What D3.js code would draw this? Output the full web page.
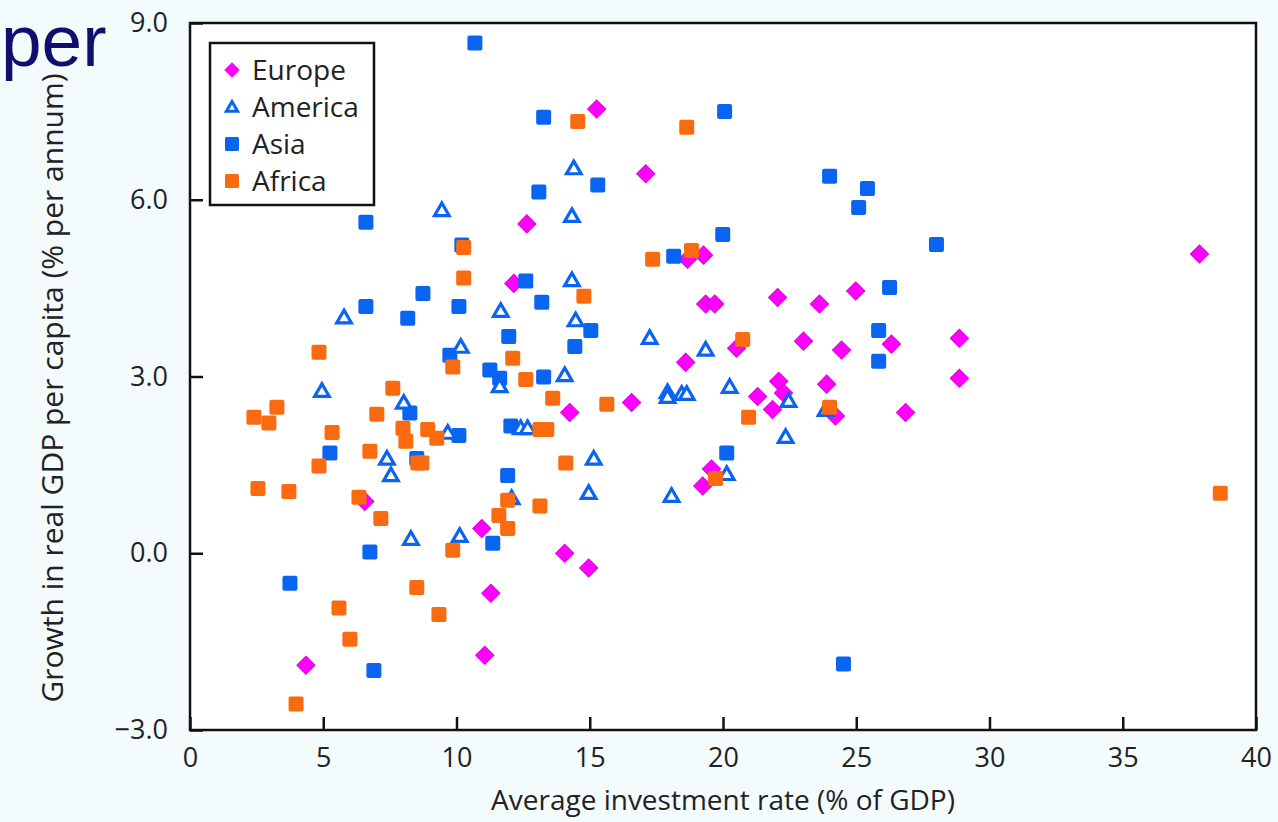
<!DOCTYPE html>
<html>
<head>
<meta charset="utf-8">
<script src="https://cdn.jsdelivr.net/npm/d3@7"></script>
<style>
    html, body { margin: 0; padding: 0; background: #f4fbfd; }
    svg { display: block; font-family: "Open Sans", sans-serif; }
</style>
</head>
<body>
<div id="chart"></div>
<script>
// growth vs investment, [investment %, growth %]
var europe = [
    [15.26, 7.54], [17.10, 6.44], [12.64, 5.59], [18.67, 4.99], [19.27, 5.06], [12.15, 4.58],
    [19.35, 4.23], [19.69, 4.23], [22.05, 4.34], [23.62, 4.23], [24.98, 4.45], [37.88, 5.08],
    [18.60, 3.24], [20.51, 3.48], [23.02, 3.60], [24.45, 3.45], [26.32, 3.55], [28.87, 3.65],
    [28.87, 2.97], [14.25, 2.39], [16.57, 2.56], [21.30, 2.66], [21.86, 2.44], [22.09, 2.92],
    [22.27, 2.72], [23.89, 2.87], [24.22, 2.33], [26.85, 2.39], [19.57, 1.43], [19.24, 1.14],
    [14.06, 0.00], [14.96, -0.25], [10.95, 0.42], [6.56, 0.88], [11.29, -0.68], [4.35, -1.90],
    [11.06, -1.73]
];
var america = [
    [9.45, 5.82], [5.78, 4.00], [4.95, 2.75], [14.40, 6.53], [14.33, 5.72], [14.33, 4.63],
    [14.47, 3.95], [11.66, 4.11], [10.16, 3.50], [17.25, 3.65], [19.35, 3.45], [14.06, 3.02],
    [11.62, 2.83], [8.02, 2.55], [7.39, 1.60], [7.54, 1.32], [9.67, 2.04], [12.41, 2.12],
    [12.67, 2.12], [12.07, 0.93], [8.29, 0.24], [10.12, 0.29], [15.15, 1.60], [14.96, 1.02],
    [18.07, 0.97], [20.14, 1.34], [17.92, 2.73], [17.92, 2.65], [18.45, 2.70], [18.64, 2.70],
    [20.25, 2.82], [22.46, 2.58], [22.35, 1.97], [23.85, 2.43]
];
var asia = [
    [10.69, 8.66], [13.27, 7.40], [20.06, 7.50], [15.30, 6.25], [13.09, 6.13], [24.00, 6.40],
    [25.42, 6.19], [25.09, 5.87], [6.60, 5.62], [10.20, 5.23], [19.99, 5.41], [18.15, 5.04],
    [28.01, 5.24], [12.60, 4.62], [13.20, 4.26], [8.74, 4.41], [6.60, 4.19], [8.17, 3.99],
    [10.09, 4.19], [11.96, 3.68], [15.04, 3.78], [14.44, 3.51], [9.75, 3.36], [11.25, 3.11],
    [11.62, 2.97], [13.27, 2.99], [26.25, 4.51], [25.84, 3.78], [25.84, 3.26], [8.25, 2.38],
    [5.25, 1.70], [8.51, 1.61], [10.09, 2.00], [12.04, 2.16], [11.92, 1.32], [20.14, 1.70],
    [11.36, 0.17], [6.75, 0.02], [3.75, -0.51], [6.90, -1.99], [24.52, -1.88]
];
var africa = [
    [4.84, 3.41], [3.26, 2.48], [2.40, 2.31], [2.96, 2.21], [2.55, 1.10], [3.71, 1.05],
    [4.84, 1.48], [5.33, 2.05], [6.75, 1.73], [6.34, 0.95], [7.16, 0.59], [7.01, 2.36],
    [7.61, 2.80], [7.99, 2.12], [8.10, 1.90], [8.92, 2.10], [9.26, 1.95], [8.55, 1.53],
    [8.70, 1.53], [9.86, 3.16], [10.27, 5.19], [10.27, 4.67], [9.86, 0.05], [8.51, -0.58],
    [9.34, -1.04], [5.59, -0.93], [6.00, -1.46], [3.98, -2.56], [12.11, 3.31], [12.60, 2.95],
    [13.61, 2.63], [13.13, 2.10], [13.39, 2.10], [15.64, 2.53], [14.78, 4.36], [11.92, 0.90],
    [11.59, 0.64], [11.92, 0.42], [13.13, 0.80], [14.10, 1.53], [14.55, 7.33], [18.64, 7.23],
    [18.82, 5.14], [17.36, 4.99], [20.74, 3.63], [20.96, 2.31], [24.00, 2.48], [19.72, 1.27],
    [38.66, 1.02]
];

var seriesNames = ["Europe", "America", "Asia", "Africa"];
var xTicks = [0, 5, 10, 15, 20, 25, 30, 35, 40];
var yTicks = [-3, 0, 3, 6, 9];
var xTitle = "Average investment rate (% of GDP)";
var yTitle = "Growth in real GDP per capita (% per annum)";

var width = 1278, height = 822;
var margin = {left: 190, right: 22, top: 23, bottom: 92};

var blue = "#0a64f2", orange = "#fa6a0e", magenta = "#ff00ff";

var svg = d3.select("#chart").append("svg")
    .attr("width", width)
    .attr("height", height);

svg.append("rect")
    .attr("width", width)
    .attr("height", height)
    .attr("fill", "#f4fbfd");

var xScale = d3.scaleLinear()
    .domain([0, 40])
    .range([margin.left, width - margin.right]);
var yScale = d3.scaleLinear()
    .domain([-3, 9])
    .range([height - margin.bottom, margin.top]);

// plot area
svg.append("rect")
    .attr("x", xScale(0))
    .attr("y", yScale(9))
    .attr("width", xScale(40) - xScale(0))
    .attr("height", yScale(-3) - yScale(9))
    .attr("fill", "#ffffff");

// axes, ticks pointing inward
var xAxis = svg.append("g")
    .attr("transform", "translate(0," + yScale(-3) + ")")
    .call(d3.axisBottom(xScale).tickValues(xTicks).tickSizeInner(-13).tickSizeOuter(0).tickPadding(18));
var yAxis = svg.append("g")
    .attr("transform", "translate(" + xScale(0) + ",0)")
    .call(d3.axisLeft(yScale).tickValues(yTicks).tickSizeInner(-13).tickSizeOuter(0).tickPadding(22)
        .tickFormat(d3.format(".1f")));

[xAxis, yAxis].forEach(function (ax) {
    ax.select(".domain").remove();
    ax.selectAll(".tick line").attr("stroke", "#111").attr("stroke-width", 2.5);
    ax.selectAll(".tick text")
        .attr("font-family", "Open Sans")
        .attr("font-size", 27)
        .attr("fill", "#222");
});

// frame
svg.append("rect")
    .attr("x", xScale(0))
    .attr("y", yScale(9))
    .attr("width", xScale(40) - xScale(0))
    .attr("height", yScale(-3) - yScale(9))
    .attr("fill", "none")
    .attr("stroke", "#111")
    .attr("stroke-width", 2.5);

// axis titles
svg.append("text")
    .attr("x", (xScale(0) + xScale(40)) / 2)
    .attr("y", 810)
    .attr("text-anchor", "middle")
    .attr("font-size", 28)
    .attr("fill", "#222")
    .text(xTitle);
svg.append("text")
    .attr("transform", "translate(63,388) rotate(-90)")
    .attr("text-anchor", "middle")
    .attr("font-size", 30)
    .attr("fill", "#222")
    .text(yTitle);

// markers
var sq = 15;
function drawSquares(data, color) {
    svg.append("g").selectAll("rect")
        .data(data)
        .enter().append("rect")
        .attr("x", function (d) { return xScale(d[0]) - sq / 2; })
        .attr("y", function (d) { return yScale(d[1]) - sq / 2; })
        .attr("width", sq)
        .attr("height", sq)
        .attr("rx", 2)
        .attr("fill", color);
}

var diamond = d3.symbol().type(d3.symbolSquare).size(165);
svg.append("g").selectAll("path")
    .data(europe)
    .enter().append("path")
    .attr("d", diamond)
    .attr("transform", function (d) {
        return "translate(" + xScale(d[0]) + "," + yScale(d[1]) + ") rotate(45)";
    })
    .attr("fill", magenta)
    .attr("stroke", "#dd00dd")
    .attr("stroke-width", 1);

drawSquares(asia, blue);

var triangle = d3.symbol().type(d3.symbolTriangle).size(92);
svg.append("g").selectAll("path")
    .data(america)
    .enter().append("path")
    .attr("d", triangle)
    .attr("transform", function (d) {
        return "translate(" + xScale(d[0]) + "," + (yScale(d[1]) + 1) + ")";
    })
    .attr("fill", "#fff")
    .attr("stroke", blue)
    .attr("stroke-width", 3.2);

drawSquares(africa, orange);

// legend
var legend = svg.append("g").attr("transform", "translate(210,43)");
legend.append("rect")
    .attr("width", 164)
    .attr("height", 162)
    .attr("fill", "#fff")
    .attr("stroke", "#111")
    .attr("stroke-width", 2.5);

seriesNames.forEach(function (name, i) {
    var cy = 27 + i * 37;
    if (name == "Europe") {
        legend.append("path")
            .attr("d", d3.symbol().type(d3.symbolSquare).size(120)())
            .attr("transform", "translate(22," + cy + ") rotate(45)")
            .attr("fill", magenta);
    } else if (name == "America") {
        legend.append("path")
            .attr("d", d3.symbol().type(d3.symbolTriangle).size(55)())
            .attr("transform", "translate(22," + (cy + 1) + ")")
            .attr("fill", "#fff")
            .attr("stroke", blue)
            .attr("stroke-width", 3);
    } else {
        legend.append("rect")
            .attr("x", 15)
            .attr("y", cy - 7)
            .attr("width", 14)
            .attr("height", 14)
            .attr("rx", 1.5)
            .attr("fill", name == "Asia" ? blue : orange);
    }
    legend.append("text")
        .attr("x", 42)
        .attr("y", cy)
        .attr("dy", "0.35em")
        .attr("font-size", 28)
        .attr("fill", "#222")
        .text(name);
});

// stray heading fragment at the top left of the picture
svg.append("text")
    .attr("x", 1)
    .attr("y", 66)
    .attr("font-family", "Liberation Sans, Arial, sans-serif")
    .attr("font-size", 73)
    .attr("fill", "#0f0f6e")
    .text("per");
</script>
</body>
</html>
